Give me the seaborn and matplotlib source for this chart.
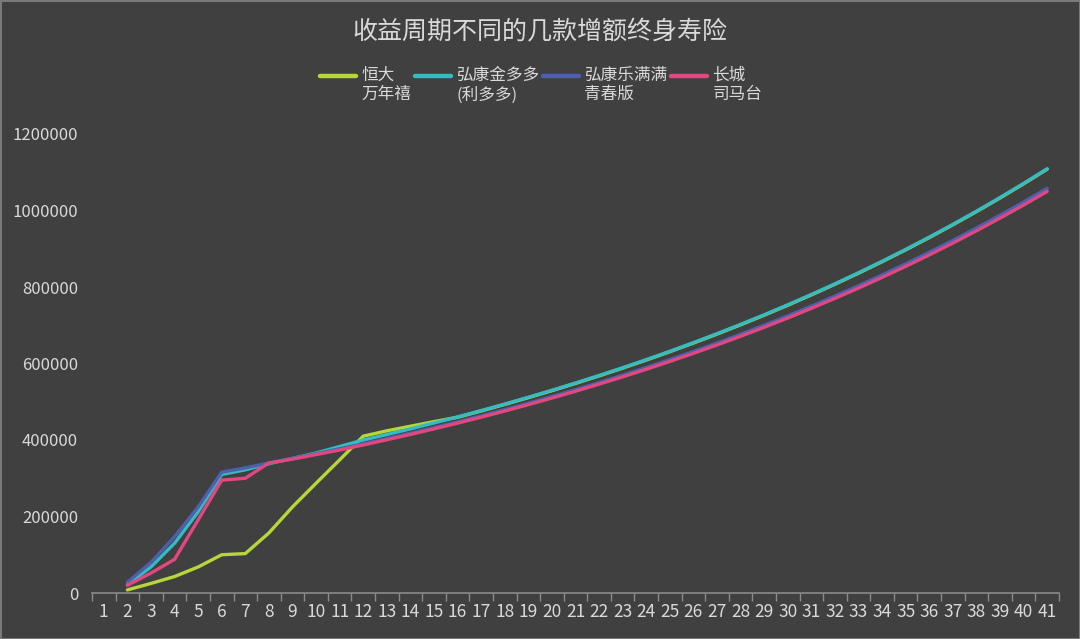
import numpy as np
import pandas as pd

import matplotlib
matplotlib.use("Agg")
import matplotlib.pyplot as plt
from matplotlib.legend_handler import HandlerLine2D
import seaborn as sns

# policy year on the x axis (1..41), values start at year 2
years = list(range(2, 42))
categories = [str(i) for i in range(1, 42)]

series_names = ["恒大\n万年禧", "弘康金多多\n(利多多)", "弘康乐满满\n青春版", "长城\n司马台"]

hengda = [8000, 25000, 43000, 68000, 100000, 103000, 157000, 225000, 287000, 348000,
          410000, 424000, 436000, 448000, 459400, 475900, 493000, 510700, 529000, 548000,
          567600, 588000, 609000, 630900, 653500, 676900, 701200, 726300, 752400, 779300,
          807300, 836200, 866200, 897200, 929300, 962600, 997100, 1032800, 1069800, 1108100]

hongkang_jin = [22000, 68000, 130000, 212000, 310000, 322000, 338000, 352000, 366000, 383000,
                400000, 414300, 429100, 444500, 460400, 476900, 494000, 511700, 530000, 549000,
                568600, 589000, 610000, 631900, 654500, 677900, 702200, 727300, 753400, 780300,
                808300, 837200, 867200, 898200, 930300, 963600, 998100, 1033800, 1070800, 1109100]

hongkang_le = [28000, 80000, 147000, 225000, 316000, 327000, 340000, 352000, 364000, 377000,
               390000, 403700, 417800, 432400, 447500, 463200, 479500, 496200, 513600, 531600,
               550200, 569500, 589400, 610100, 631400, 653500, 676400, 700100, 724500, 749900,
               776200, 803300, 831500, 860600, 890700, 921900, 954200, 987600, 1022200, 1058000]

changcheng = [20000, 52000, 88000, 191000, 295000, 300000, 340000, 350000, 362000, 374000,
              387000, 400600, 414600, 429100, 444100, 459700, 475800, 492400, 509700, 527500,
              546000, 565100, 584900, 605400, 626600, 648500, 671200, 694700, 719000, 744200,
              770300, 797200, 825100, 854000, 883900, 914900, 946900, 980100, 1014400, 1049900]

y_ticks = [0, 200000, 400000, 600000, 800000, 1000000, 1200000]

colors = ["#b7d63a", "#35bcc2", "#4f5fae", "#e2487f"]
bg = "#404040"
text_color = "#d9d9d9"
axis_color = "#8a8a8a"


class TopLineHandler(HandlerLine2D):
    # excel puts the legend swatch level with the first line of a two-line label
    def create_artists(self, legend, orig_handle, xdescent, ydescent, width, height, fontsize, trans):
        artists = super().create_artists(legend, orig_handle, xdescent, ydescent,
                                         width, height, fontsize, trans)
        for a in artists:
            a.set_ydata(np.asarray(a.get_ydata()) + fontsize * 0.6)
        return artists


df = pd.concat([
    pd.DataFrame({"year": years, "value": vals, "name": name})
    for name, vals in zip(series_names, [hengda, hongkang_jin, hongkang_le, changcheng])
])

sns.set_theme(style="dark")
plt.rcParams["font.family"] = ["Noto Sans CJK SC", "DejaVu Sans"]

fig = plt.figure(figsize=(10.8, 6.39), dpi=100)
fig.patch.set_facecolor(bg)
fig.patch.set_edgecolor("#7a7a7a")
fig.patch.set_linewidth(2)
ax = fig.add_axes([92 / 1080, 1 - 593 / 639, (1059 - 92) / 1080, (593 - 134) / 639])
ax.set_facecolor(bg)

sns.lineplot(data=df, x="year", y="value", hue="name", hue_order=series_names,
             palette=colors, linewidth=2.4, sort=False, ax=ax)

ax.set_xlim(0.5, 41.5)
ax.set_ylim(0, 1200000)
ax.set_xticks(range(1, 42))
ax.set_xticklabels(categories)
ax.set_xticks(np.arange(0.5, 42, 1), minor=True)
ax.set_yticks(y_ticks)
ax.set_yticklabels([str(v) for v in y_ticks])
ax.tick_params(axis="x", which="major", length=0, pad=7, labelsize=12.5, colors=text_color)
ax.tick_params(axis="x", which="minor", length=6, width=1, color=axis_color, direction="out", bottom=True)
ax.tick_params(axis="y", length=0, pad=10, labelsize=12, colors=text_color)
ax.set_xlabel("")
ax.set_ylabel("")
ax.grid(False)
for side in ["top", "right", "left"]:
    ax.spines[side].set_visible(False)
ax.spines["bottom"].set_color(axis_color)
ax.spines["bottom"].set_linewidth(1.2)

handles, labels = ax.get_legend_handles_labels()
leg = ax.legend(handles, labels, loc="center", bbox_to_anchor=(541 / 1080, 1 - 85 / 639),
                bbox_transform=fig.transFigure, ncol=4, frameon=False, fontsize=12,
                handlelength=2.2, handletextpad=0.3, columnspacing=0.2, labelcolor=text_color,
                handler_map={h: TopLineHandler() for h in handles})
for line in leg.get_lines():
    line.set_linewidth(3.2)

fig.text(0.5, 1 - 32 / 639, "收益周期不同的几款增额终身寿险", ha="center", va="center",
         fontsize=18, color=text_color)

fig.savefig("out.png", facecolor=fig.get_facecolor(), edgecolor=fig.get_edgecolor())
plt.close(fig)
